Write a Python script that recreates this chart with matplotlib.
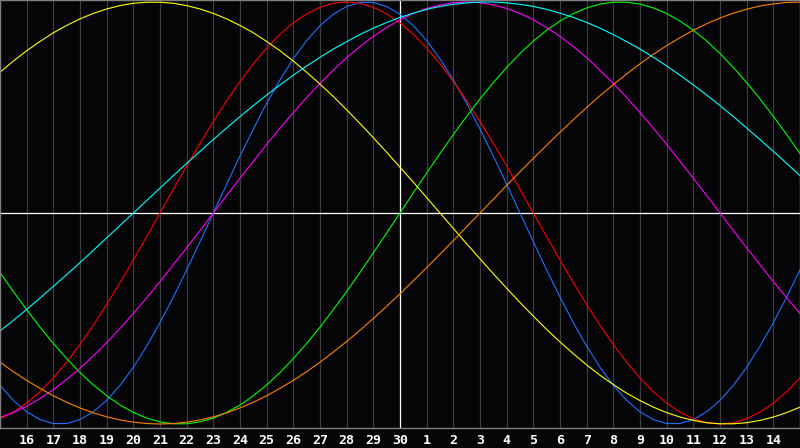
import numpy as np
import matplotlib
matplotlib.use('Agg')
import matplotlib.pyplot as plt

# ---- Data: cycle values in thousandths at half-day steps ----
# day labels for the 31 grid positions (index 0 .. 30, "30" is today)
DAY_LABELS = [str(d) for d in list(range(15, 31)) + list(range(1, 16))]
X_HALF = np.arange(0, 30.5, 0.5)

physical_23 = [-817, -888, -942, -979, -998, -998, -979, -942, -888, -817, -731, -631, -520, -398,
               -270, -136, 0, 136, 270, 398, 520, 631, 731, 817, 888, 942, 979, 998, 998, 979,
               942, 888, 817, 731, 631, 520, 398, 270, 136, 0, -136, -270, -398, -520, -631,
               -731, -817, -888, -942, -979, -998, -998, -979, -942, -888, -817, -731, -631,
               -520, -398, -270]
emotional_28 = [-975, -944, -901, -847, -782, -707, -623, -532, -434, -330, -223, -112, 0, 112,
                223, 330, 434, 532, 623, 707, 782, 847, 901, 944, 975, 994, 1000, 994, 975, 944,
                901, 847, 782, 707, 623, 532, 434, 330, 223, 112, 0, -112, -223, -330, -434,
                -532, -623, -707, -782, -847, -901, -944, -975, -994, -1000, -994, -975, -944,
                -901, -847, -782]
intellectual_33 = [-282, -372, -458, -541, -618, -690, -756, -815, -866, -910, -945, -972, -990,
                   -999, -999, -990, -972, -945, -910, -866, -815, -756, -690, -618, -541, -458,
                   -372, -282, -189, -95, 0, 95, 189, 282, 372, 458, 541, 618, 690, 756, 815,
                   866, 910, 945, 972, 990, 999, 999, 990, 972, 945, 910, 866, 815, 756, 690,
                   618, 541, 458, 372, 282]
intuitive_38 = [-969, -946, -916, -879, -837, -789, -736, -677, -614, -547, -476, -402, -325,
                -245, -165, -83, 0, 83, 165, 245, 325, 402, 476, 547, 614, 677, 736, 789, 837,
                879, 916, 946, 969, 986, 997, 1000, 997, 986, 969, 946, 916, 879, 837, 789, 736,
                677, 614, 547, 476, 402, 325, 245, 165, 83, 0, -83, -165, -245, -325, -402,
                -476]
aesthetic_43 = [667, 720, 769, 813, 854, 889, 920, 946, 967, 983, 994, 999, 999, 994, 983, 967,
                946, 920, 889, 854, 813, 769, 720, 667, 611, 552, 489, 424, 357, 288, 217, 146,
                73, 0, -73, -146, -217, -288, -357, -424, -489, -552, -611, -667, -720, -769,
                -813, -854, -889, -920, -946, -967, -983, -994, -999, -999, -994, -983, -967,
                -946, -920]
awareness_48 = [-707, -752, -793, -831, -866, -897, -924, -947, -966, -981, -991, -998, -1000,
                -998, -991, -981, -966, -947, -924, -897, -866, -831, -793, -752, -707, -659,
                -609, -556, -500, -442, -383, -321, -259, -195, -131, -65, 0, 65, 131, 195, 259,
                321, 383, 442, 500, 556, 609, 659, 707, 752, 793, 831, 866, 897, 924, 947, 966,
                981, 991, 998, 1000]
spiritual_53 = [-559, -509, -457, -403, -348, -292, -235, -177, -118, -59, 0, 59, 118, 177, 235,
                292, 348, 403, 457, 509, 559, 607, 653, 697, 738, 777, 812, 846, 876, 903, 927,
                947, 965, 979, 989, 996, 1000, 1000, 996, 989, 979, 965, 947, 927, 903, 876, 846,
                812, 777, 738, 697, 653, 607, 559, 509, 457, 403, 348, 292, 235, 177]

SERIES = [
    (physical_23, '#1f6fff'),
    (emotional_28, '#ff0000'),
    (intellectual_33, '#00ff00'),
    (intuitive_38, '#ff00ff'),
    (aesthetic_43, '#ffff00'),
    (awareness_48, '#ff8000'),
    (spiritual_53, '#00ffff'),
]

BG = '#050508'
TODAY = 15

fig = plt.figure(figsize=(8, 4.48), dpi=100, facecolor=BG)
ax = fig.add_axes([0, 20 / 448, 1, 428 / 448], facecolor=BG)

# day grid + today marker + zero line
for i in range(1, 30):
    ax.axvline(i, color='#ffffff' if i == TODAY else '#3a3a3a', lw=0.9, zorder=1)
ax.axhline(0, color='white', lw=0.9, zorder=1)

for vals, c in SERIES:
    ax.plot(X_HALF, np.array(vals) / 1000.0, color=c, lw=0.8, zorder=2)

ax.set_xlim(0, 30)
ax.set_ylim(-1 - 4 / 211, 1 + 2 / 211)
ax.set_yticks([])
ax.set_xticks(range(1, 30))
ax.set_xticklabels(DAY_LABELS[1:30], color='white', fontsize=9.5,
                   fontweight='bold', family='DejaVu Sans Mono')
ax.tick_params(axis='x', length=0, pad=4)
for sp in ax.spines.values():
    sp.set_color('#808080')
    sp.set_linewidth(1.0)

fig.savefig('out.png', dpi=100, facecolor=BG)
